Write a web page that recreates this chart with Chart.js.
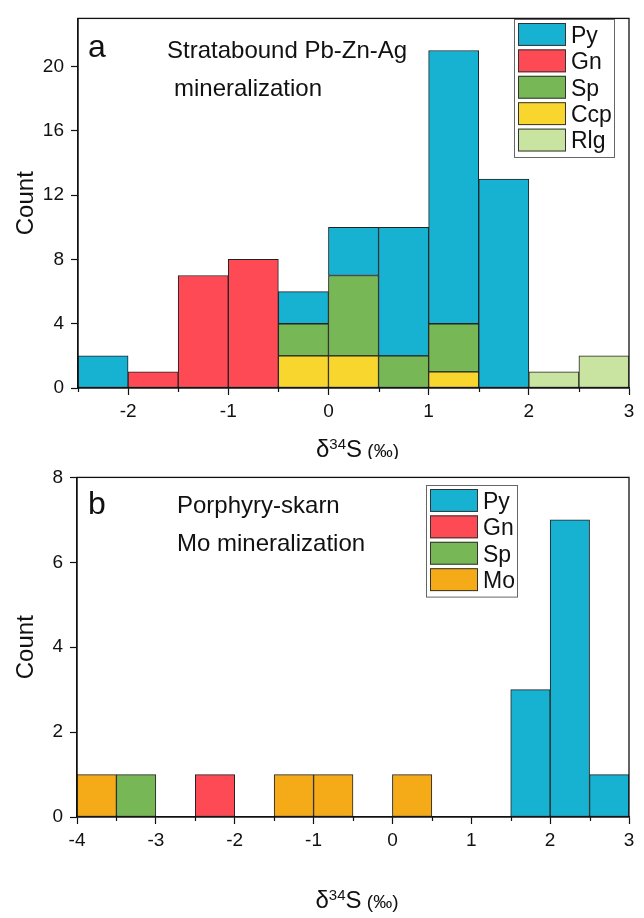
<!DOCTYPE html>
<html>
<head>
<meta charset="utf-8">
<script src="https://cdn.jsdelivr.net/npm/chart.js@4.4.1/dist/chart.umd.min.js"></script>
<style>
  html, body { margin: 0; padding: 0; background: #fff; }
  canvas { display: block; }
</style>
</head>
<body>
<canvas id="panelA" width="644" height="459"></canvas>
<canvas id="panelB" width="644" height="459"></canvas>
<script>
// panel a: 0.5 permil bins, -2.5 .. 3
const binsA = [-2.25, -1.75, -1.25, -0.75, -0.25, 0.25, 0.75, 1.25, 1.75, 2.25, 2.75];
const pyA  = [2, 0, 0, 0, 2, 3, 8, 17, 13, 0, 0];
const gnA  = [0, 1, 7, 8, 0, 0, 0, 0, 0, 0, 0];
const spA  = [0, 0, 0, 0, 2, 5, 2, 3, 0, 0, 0];
const ccpA = [0, 0, 0, 0, 2, 2, 0, 1, 0, 0, 0];
const rlgA = [0, 0, 0, 0, 0, 0, 0, 0, 0, 1, 2];
const xTicksA = [-2, -1, 0, 1, 2, 3];
const yTicksA = [0, 4, 8, 12, 16, 20];

// panel b: 0.5 permil bins, -4 .. 3
const binsB = [-3.75, -3.25, -2.75, -2.25, -1.75, -1.25, -0.75, -0.25, 0.25, 0.75, 1.25, 1.75, 2.25, 2.75];
const pyB = [0, 0, 0, 0, 0, 0, 0, 0, 0, 0, 0, 3, 7, 1];
const gnB = [0, 0, 0, 1, 0, 0, 0, 0, 0, 0, 0, 0, 0, 0];
const spB = [0, 1, 0, 0, 0, 0, 0, 0, 0, 0, 0, 0, 0, 0];
const moB = [1, 0, 0, 0, 0, 1, 1, 0, 1, 0, 0, 0, 0, 0];
const xTicksB = [-4, -3, -2, -1, 0, 1, 2, 3];
const yTicksB = [0, 2, 4, 6, 8];

const colors = {
  Py: '#17b1d1', Gn: '#fe4a55', Sp: '#77b756',
  Ccp: '#f9d62e', Rlg: '#c9e4a0', Mo: '#f5ab18'
};
const FONT = '"Liberation Sans", Arial, sans-serif';
const INK = '#111';

// frame, minor ticks, notes, legend and x title
function decor(cfg) {
  return {
    id: 'decor',
    afterDraw(chart) {
      const ctx = chart.ctx;
      const a = chart.chartArea;
      const xs = chart.scales.xs;
      ctx.save();
      ctx.strokeStyle = INK;
      ctx.lineWidth = 1.3;
      ctx.strokeRect(a.left, a.top, a.right - a.left, a.bottom - a.top);

      // short ticks on the bin edges
      const edges = cfg.bins.map(c => c - 0.25).concat(cfg.bins[cfg.bins.length - 1] + 0.25);
      ctx.lineWidth = 1.2;
      edges.forEach(e => {
        if (cfg.xTicks.includes(e)) return;
        const px = Math.round(xs.getPixelForValue(e)) + 0.5;
        ctx.beginPath();
        ctx.moveTo(px, a.bottom);
        ctx.lineTo(px, a.bottom + 4);
        ctx.stroke();
      });

      ctx.fillStyle = INK;
      ctx.textBaseline = 'alphabetic';
      ctx.textAlign = 'left';
      cfg.notes.forEach(n => {
        ctx.font = n.size + 'px ' + FONT;
        ctx.fillText(n.t, n.x, n.y);
      });

      // legend box
      const L = cfg.legend;
      const names = L.order;
      ctx.strokeStyle = '#666';
      ctx.lineWidth = 1;
      ctx.strokeRect(L.x + 0.5, L.y + 0.5, L.w, names.length * L.pitch + 6);
      names.forEach((nm, i) => {
        const y = L.y + 4 + i * L.pitch;
        ctx.fillStyle = colors[nm];
        ctx.fillRect(L.x + 4, y, 48, L.pitch - 3.5);
        ctx.strokeStyle = '#333';
        ctx.strokeRect(L.x + 4.5, y + 0.5, 47, L.pitch - 4.5);
        ctx.fillStyle = INK;
        ctx.font = '23px ' + FONT;
        ctx.textBaseline = 'middle';
        ctx.fillText(nm, L.x + 57, y + (L.pitch - 3.5) / 2 + 2);
      });

      // x title: delta 34 S (permil)
      const parts = [
        { t: '\u03b4', size: 24, dy: 0 },
        { t: '34', size: 15, dy: -8 },
        { t: 'S', size: 24, dy: 0 },
        { t: ' (\u2030)', size: 19, dy: 0 }
      ];
      let w = 0;
      parts.forEach(p => { ctx.font = p.size + 'px ' + FONT; p.w = ctx.measureText(p.t).width; w += p.w; });
      let x = (a.left + a.right) / 2 + 4 - w / 2;
      ctx.textBaseline = 'alphabetic';
      parts.forEach(p => {
        ctx.font = p.size + 'px ' + FONT;
        ctx.fillText(p.t, x, cfg.titleY + p.dy);
        x += p.w;
      });
      ctx.restore();
    }
  };
}

function histogram(id, cfg) {
  const xmin = cfg.bins[0] - 0.25;
  const xmax = cfg.bins[cfg.bins.length - 1] + 0.25;
  const tickFont = { family: FONT, size: 19 };
  return new Chart(document.getElementById(id), {
    type: 'bar',
    data: {
      labels: cfg.bins,
      datasets: cfg.series.map(s => ({
        label: s[0],
        data: s[1].map(v => v || null),
        backgroundColor: colors[s[0]],
        borderColor: '#222',
        borderWidth: 1,
        borderSkipped: false,
        barPercentage: 1,
        categoryPercentage: 1
      }))
    },
    options: {
      responsive: false,
      animation: false,
      layout: { padding: cfg.pad },
      plugins: { legend: { display: false }, tooltip: { enabled: false } },
      scales: {
        x: { type: 'category', stacked: true, display: false },
        xs: {
          type: 'linear', position: 'bottom', min: xmin, max: xmax,
          offset: false, bounds: 'data',
          afterBuildTicks: s => { s.ticks = cfg.xTicks.map(v => ({ value: v })); },
          afterFit: s => { s.height = cfg.xh; },
          grid: { offset: false, drawOnChartArea: false, tickLength: 7, tickColor: INK, tickWidth: 1.2 },
          border: { color: INK, width: 1.3 },
          ticks: { font: tickFont, color: INK, padding: 5, maxRotation: 0, autoSkip: false }
        },
        y: {
          stacked: true, min: 0, max: cfg.ymax,
          afterBuildTicks: s => { s.ticks = cfg.yTicks.map(v => ({ value: v })); },
          afterFit: s => { s.width = cfg.yw; },
          grid: { drawOnChartArea: false, tickLength: 7, tickColor: INK, tickWidth: 1.2 },
          border: { color: INK, width: 1.3 },
          ticks: { font: tickFont, color: INK, padding: 7 },
          title: { display: true, text: 'Count', color: INK, font: { family: FONT, size: 24 }, padding: { top: 12, bottom: 0 } }
        }
      }
    },
    plugins: [decor(cfg)]
  });
}

histogram('panelA', {
  bins: binsA, xTicks: xTicksA, yTicks: yTicksA, ymax: 23,
  series: [['Ccp', ccpA], ['Sp', spA], ['Gn', gnA], ['Py', pyA], ['Rlg', rlgA]],
  pad: { top: 10, right: 15, left: 0, bottom: 0 }, yw: 78, xh: 71, titleY: 457,
  notes: [
    { t: 'a', x: 88, y: 57, size: 32 },
    { t: 'Stratabound Pb-Zn-Ag', x: 167, y: 58, size: 24 },
    { t: 'mineralization', x: 174, y: 96, size: 24 }
  ],
  legend: { x: 514, y: 19, w: 100, pitch: 26.4, order: ['Py', 'Gn', 'Sp', 'Ccp', 'Rlg'] }
});

histogram('panelB', {
  bins: binsB, xTicks: xTicksB, yTicks: yTicksB, ymax: 8,
  series: [['Mo', moB], ['Sp', spB], ['Gn', gnB], ['Py', pyB]],
  pad: { top: 7, right: 15, left: 0, bottom: 0 }, yw: 77, xh: 101, titleY: 449,
  notes: [
    { t: 'b', x: 88, y: 55, size: 32 },
    { t: 'Porphyry-skarn', x: 177, y: 54, size: 24 },
    { t: 'Mo mineralization', x: 177, y: 92, size: 24 }
  ],
  legend: { x: 426, y: 26, w: 91, pitch: 26.4, order: ['Py', 'Gn', 'Sp', 'Mo'] }
});
</script>
</body>
</html>
